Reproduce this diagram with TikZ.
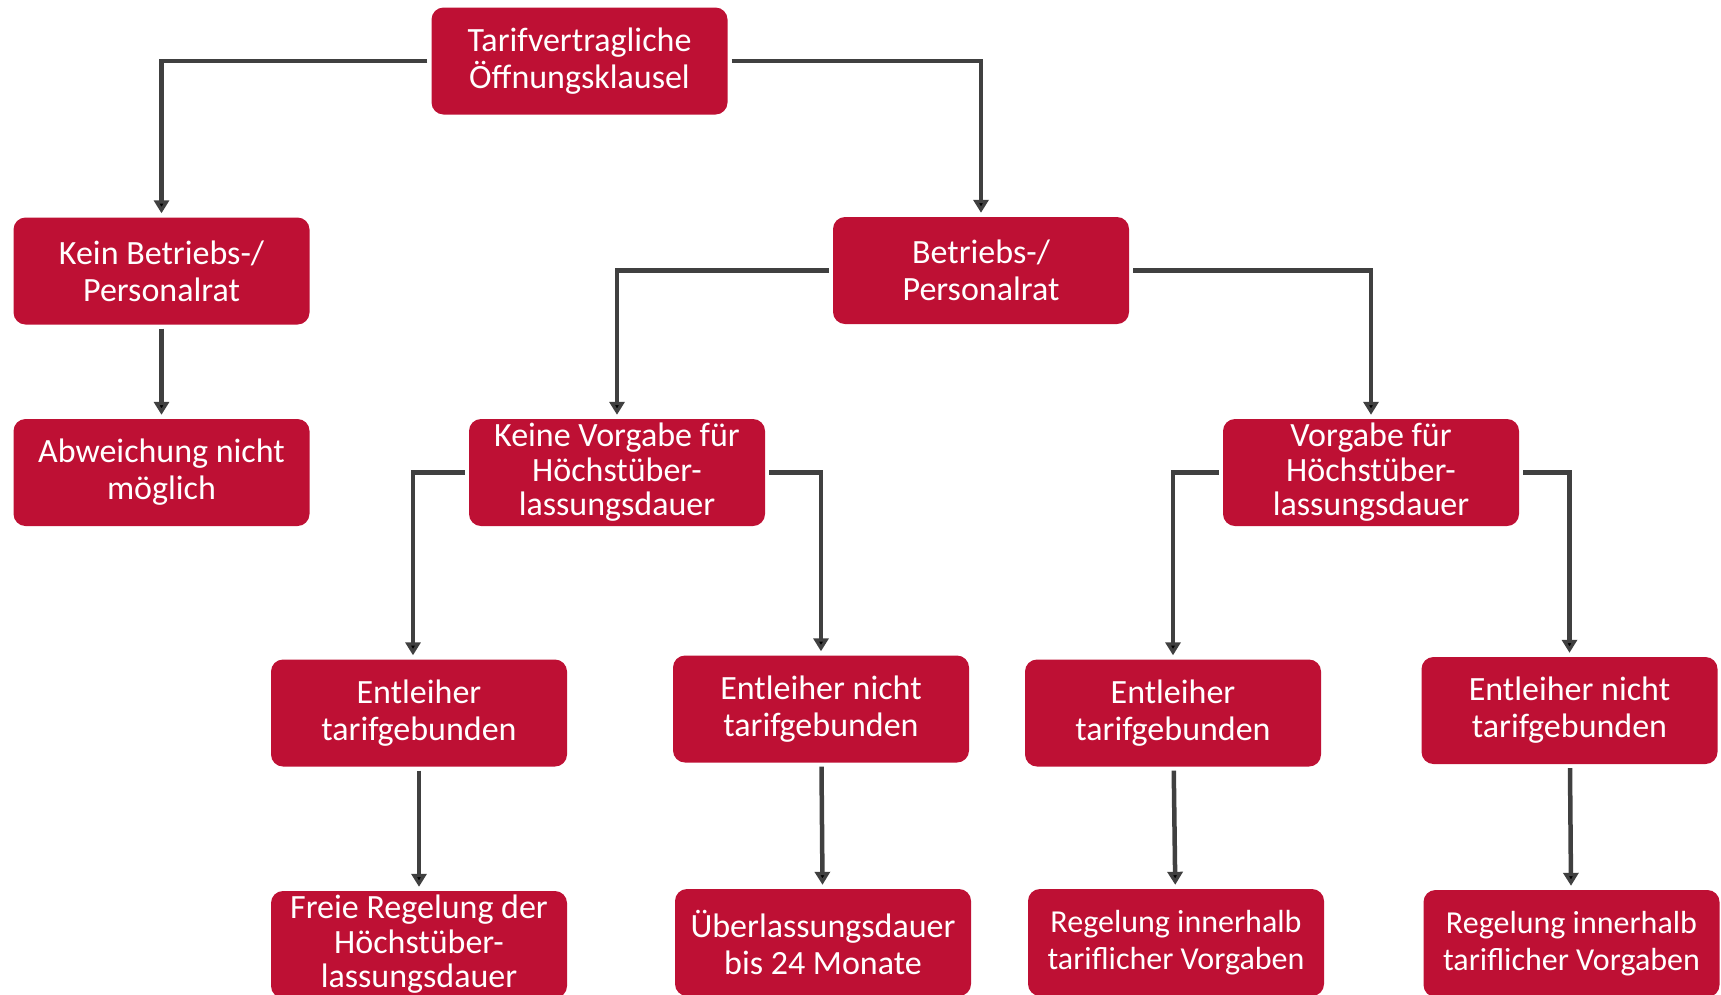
\documentclass[tikz,border=0pt]{standalone}
\usepackage{fontspec}
\setmainfont{Carlito}
\usetikzlibrary{arrows.meta}
\definecolor{kred}{RGB}{190,16,52}
\definecolor{kgray}{RGB}{64,64,64}

\begin{document}
\begin{tikzpicture}[x=1pt,y=-1pt,
    box/.style={fill=kred,text=white,rounded corners=12pt,minimum width=296pt,
      minimum height=107pt,inner sep=0pt,align=center,font=\fontsize{34}{37}\selectfont},
    tight/.style={font=\fontsize{34}{34.5}\selectfont},
    narrow/.style={font=\fontsize{32}{37}\selectfont},
    link/.style={draw=kgray,line width=4.5pt,-{Triangle[length=13pt,width=15pt]},
      shorten <=4pt,shorten >=4pt},
    elbow/.style={to path={-| (\tikztotarget)}}]
            \useasboundingbox (0,0) rectangle (1721,994);
            % Ebene 1 und 2
            \draw (579.5,61) node[box] (klausel) {Tarifvertragliche\\Öffnungsklausel};
            \draw (161.5,271) node[box] (keinrat) {Kein Betriebs-/\\Personalrat};
            \draw (981,270.5) node[box] (rat) {Betriebs-/\\Personalrat};
            \draw (161.5,472.5) node[box] (abweichung) {Abweichung nicht\\möglich};
            \draw (617,472.5) node[box,tight] (keinevorgabe) {Keine Vorgabe für\\Höchstüber-\\lassungsdauer};
            \draw (1371,472.5) node[box,tight] (vorgabe) {Vorgabe für\\Höchstüber-\\lassungsdauer};
            % Ebene 3
            \draw (419,713) node[box] (gebundenA) {Entleiher\\tarifgebunden};
            \draw (821,709) node[box] (nichtA) {Entleiher nicht\\tarifgebunden};
            \draw (1173,713) node[box] (gebundenB) {Entleiher\\tarifgebunden};
            \draw (1569.5,710.5) node[box] (nichtB) {Entleiher nicht\\tarifgebunden};
            \coordinate (zielA) at ([xshift=-6pt]gebundenA.north);
            % Ebene 4
            \draw (419,944.5) node[box,tight] (frei) {Freie Regelung der\\Höchstüber-\\lassungsdauer};
            \draw (823,942.5) node[box] (monate) {Überlassungsdauer\\bis 24 Monate};
            \draw (1176,942.5) node[box,narrow] (regelA) {Regelung innerhalb\\tariflicher Vorgaben};
            \draw (1571.5,943.5) node[box,narrow] (regelB) {Regelung innerhalb\\tariflicher Vorgaben};
            \path[link] (klausel) edge[elbow] (keinrat)
                        (klausel) edge[elbow] (rat)
                        (keinrat) edge (abweichung)
                        (rat) edge[elbow] (keinevorgabe)
                        (rat) edge[elbow] (vorgabe)
                        (keinevorgabe) edge[elbow] (zielA)
                        (keinevorgabe) edge[elbow] (nichtA)
                        (vorgabe) edge[elbow] (gebundenB)
                        (vorgabe) edge[elbow] (nichtB)
                        (gebundenA) edge (frei)
                        (nichtA) edge (monate)
                        (gebundenB) edge (regelA)
                        (nichtB) edge (regelB);
        \end{tikzpicture}
\end{document}
